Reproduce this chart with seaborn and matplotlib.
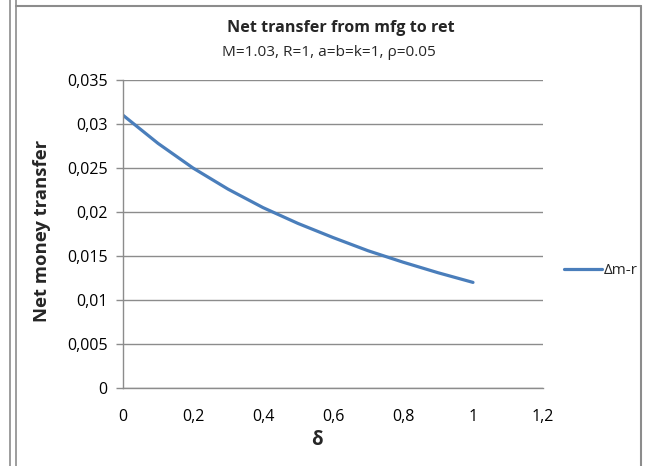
import matplotlib
matplotlib.use("Agg")
import matplotlib.pyplot as plt
from matplotlib.lines import Line2D
from matplotlib.ticker import FuncFormatter, MultipleLocator
import seaborn as sns
import pandas as pd

# Net money transfer from manufacturer to retailer as a function of delta
delta = [0.0, 0.1, 0.2, 0.3, 0.4, 0.5, 0.6, 0.7, 0.8, 0.9, 1.0]
transfer = [0.0310, 0.0278, 0.0250, 0.0226, 0.0205, 0.0187, 0.0171,
            0.0156, 0.0143, 0.0131, 0.0120]
series_name = "Δm-r"

title = "Net transfer from mfg to ret"
subtitle = "M=1.03, R=1, a=b=k=1, ρ=0.05"
x_label = "δ"
y_label = "Net money transfer"

df = pd.DataFrame({"delta": delta, "transfer": transfer, "series": series_name})

sns.set_theme(style="white")
plt.rcParams["font.family"] = ["Open Sans", "DejaVu Sans"]

W, H = 645, 466
fig = plt.figure(figsize=(W / 100, H / 100), dpi=100)
ax = fig.add_axes([123 / W, 1 - 388 / H, 420 / W, 308 / H])

sns.lineplot(data=df, x="delta", y="transfer", color="#4A7EBB", linewidth=2.3,
             ax=ax, label=series_name, solid_joinstyle="round")

ax.set_xlim(0, 1.2)
ax.set_ylim(0, 0.035)
ax.xaxis.set_major_locator(MultipleLocator(0.2))
ax.yaxis.set_major_locator(MultipleLocator(0.005))
ax.set_xlabel("")
ax.set_ylabel("")


def comma_fmt(v, pos):
    s = f"{round(v, 6):g}"
    return s.replace(".", ",")


ax.xaxis.set_major_formatter(FuncFormatter(comma_fmt))
ax.yaxis.set_major_formatter(FuncFormatter(comma_fmt))

grid_col = "#8C8C8C"
ax.grid(axis="y", color=grid_col, linewidth=1.0)
ax.set_axisbelow(True)
for side in ("top", "right"):
    ax.spines[side].set_visible(False)
for side in ("left", "bottom"):
    ax.spines[side].set_color(grid_col)
    ax.spines[side].set_linewidth(1.0)

ax.tick_params(axis="y", direction="out", length=5, width=1.0, color=grid_col,
               labelsize=11.5, labelcolor="#000000", pad=6, left=True)
ax.tick_params(axis="x", length=0, labelsize=11.5, labelcolor="#000000", pad=15)

renderer = fig.canvas.get_renderer()


def fit_width(txt, target_px):
    """Scale a text's font size so its rendered length is target_px."""
    for _ in range(3):
        bb = txt.get_window_extent(renderer)
        wpx = bb.width if txt.get_rotation() == 0 else bb.height
        txt.set_fontsize(txt.get_fontsize() * target_px / wpx)


t1 = fig.text(341 / W, 1 - 28 / H, title, ha="center", va="center",
              fontsize=13, fontweight="bold")
t2 = fig.text(329 / W, 1 - 53 / H, subtitle, ha="center", va="center",
              fontsize=10)
t3 = fig.text(42 / W, 1 - 231 / H, y_label, ha="center", va="center",
              rotation=90, fontsize=12, fontweight="bold")
t4 = fig.text(317 / W, 1 - 440 / H, x_label, ha="center", va="center",
              fontsize=13.5, fontweight="bold")
fit_width(t1, 228)
fit_width(t2, 214)
fit_width(t3, 182)

leg = ax.legend(loc="center left", bbox_to_anchor=(1.035, 0.38), frameon=False,
                fontsize=11, handlelength=2.5, handletextpad=0.1,
                borderaxespad=0)

# surrounding chart frame
frame_col = "#8C8C8C"
for x in (10, 16):
    fig.add_artist(Line2D([x / W, x / W], [0, 1], transform=fig.transFigure,
                          color=frame_col, linewidth=1.2))
fig.add_artist(Line2D([16 / W, 641 / W], [1 - 5.5 / H, 1 - 5.5 / H],
                      transform=fig.transFigure, color=frame_col, linewidth=1.5))
fig.add_artist(Line2D([641 / W, 641 / W], [0, 1 - 5.5 / H],
                      transform=fig.transFigure, color=frame_col, linewidth=1.5))

fig.savefig("out.png", dpi=100)
